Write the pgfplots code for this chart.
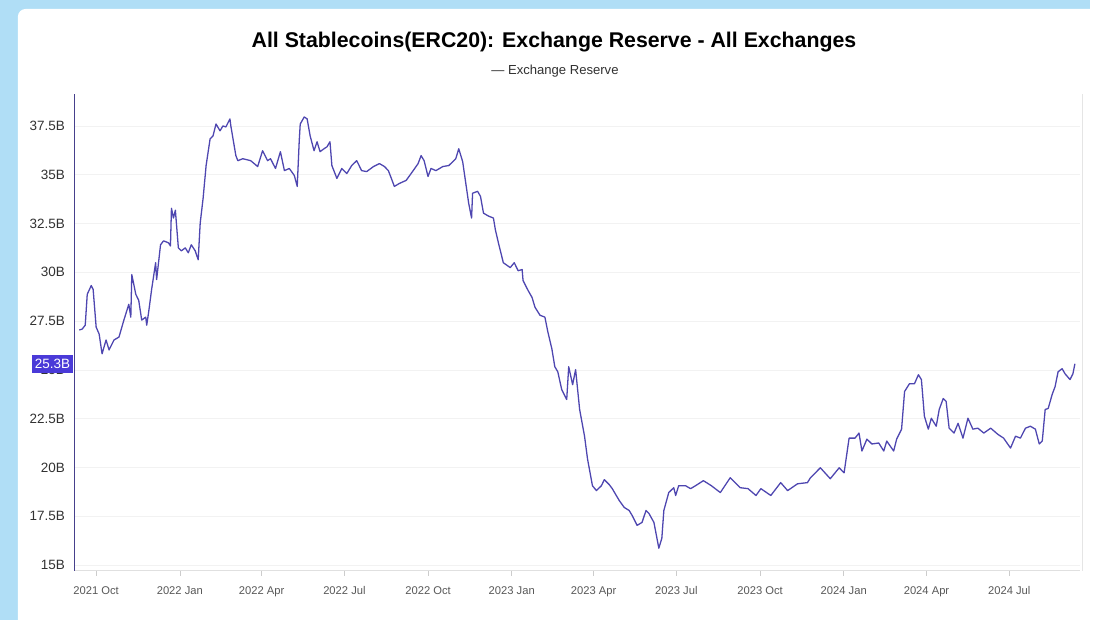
\documentclass[border=0pt]{standalone}
\usepackage{pgfplots}
\pgfplotsset{compat=1.18}
\usepackage{fontspec}
\setmainfont{Liberation Sans}
\definecolor{bgblue}{RGB}{176,222,246}
\definecolor{linec}{RGB}{78,70,176}
\definecolor{tagc}{RGB}{74,58,216}
\definecolor{axisc}{RGB}{70,64,140}
\definecolor{txt}{RGB}{50,50,50}
\begin{document}
\begin{tikzpicture}
\fill[bgblue] (0pt,0pt) rectangle (1100pt,626pt);
\fill[white, rounded corners=8pt] (18pt,-10pt) rectangle (1110pt,617pt);
\path[use as bounding box] (0pt,0pt) rectangle (1100pt,626pt);
\node[font=\fontsize{21.5}{24}\selectfont\bfseries, text=black] at (559pt,584pt) {All Stablecoins(ERC20): Exchange Reserve - All Exchanges};
\node[font=\fontsize{13.2}{15}\selectfont, text=txt] at (560pt,554pt) {— Exchange Reserve};
\begin{axis}[
  at={(75pt,50pt)}, anchor=south west, scale only axis,
  width=1015pt, height=481pt,
  xmin=-24, xmax=1082, ymin=14.7, ymax=39.13,
  axis x line*=bottom, axis y line*=left,
  x axis line style={draw=black!12, line width=0.8pt},
  y axis line style={draw=axisc, line width=1.3pt},
  xtick={0,92,182,273,365,457,547,638,730,822,913,1004},
  xticklabels={2021 Oct,2022 Jan,2022 Apr,2022 Jul,2022 Oct,2023 Jan,2023 Apr,2023 Jul,2023 Oct,2024 Jan,2024 Apr,2024 Jul},
  ytick={15,17.5,20,22.5,25,27.5,30,32.5,35,37.5},
  yticklabels={15B,17.5B,20B,22.5B,25B,27.5B,30B,32.5B,35B,37.5B},
  x tick label style={font=\fontsize{11.3}{13}\selectfont, text=black!65, yshift=-7pt},
  y tick label style={font=\fontsize{13.6}{15}\selectfont, text=txt, xshift=-6pt},
  x tick style={draw=black!20, line width=0.6pt},
  xtick align=outside, major tick length=5pt,
  y tick style={draw=none},
  ymajorgrids, grid style={draw=black!5, line width=0.6pt},
  clip=false,
]
\addplot[linec, line width=1.3pt, line join=round] coordinates {
(-18.5,27.04)(-15.3,27.09)(-12.0,27.29)(-9.8,28.87)(-5.4,29.32)(-3.3,29.12)(0,27.19)(3.3,26.83)(6.5,25.82)(10.9,26.53)(14.2,26.02)(19.6,26.53)(25.1,26.68)(30.5,27.55)(35.9,28.36)(38.1,27.70)(39.2,29.88)(43.6,28.87)(46.8,28.56)(50.1,27.55)(54.5,27.70)(55.6,27.29)(57.7,27.95)(61.0,29.12)(65.4,30.49)(66.5,29.63)(70.8,31.41)(74.1,31.61)(79.5,31.51)(81.7,31.35)(82.8,33.28)(85.0,32.78)(87.1,33.18)(90.4,31.25)(93.7,31.10)(98.0,31.25)(101.3,31.00)(104.6,31.41)(108.9,31.10)(112.2,30.64)(114.4,32.52)(117.6,33.79)(120.9,35.47)(125.3,36.84)(128.5,36.99)(131.8,37.60)(136.2,37.25)(139.4,37.50)(142.7,37.45)(147.1,37.86)(148.1,37.50)(153.6,35.98)(155.8,35.72)(161.2,35.82)(169.9,35.72)(177.6,35.42)(183.0,36.23)(188.5,35.72)(191.7,35.82)(197.2,35.32)(202.6,36.18)(207.0,35.21)(212.4,35.32)(217.9,34.96)(221.1,34.40)(223.3,36.74)(224.4,37.60)(228.8,37.96)(232.0,37.86)(235.3,36.99)(239.6,36.23)(242.9,36.69)(246.2,36.18)(250.5,36.33)(253.8,36.43)(257.1,36.69)(259.2,35.47)(264.7,34.81)(270.1,35.32)(275.6,35.06)(281.0,35.47)(286.5,35.72)(291.9,35.21)(297.4,35.16)(305.0,35.42)(311.5,35.57)(317.0,35.42)(321.3,35.21)(324.6,34.81)(327.9,34.40)(333.3,34.55)(340.9,34.71)(348.6,35.21)(354.0,35.57)(357.3,35.98)(360.6,35.72)(364.9,34.91)(368.2,35.32)(373.6,35.21)(381.2,35.42)(387.8,35.47)(395.4,35.82)(398.7,36.33)(403.0,35.67)(405.2,34.96)(409.6,33.54)(412.8,32.78)(413.9,34.05)(419.4,34.15)(422.6,33.89)(425.9,33.03)(431.4,32.88)(436.8,32.78)(439.0,32.17)(442.3,31.51)(447.7,30.49)(455.3,30.24)(459.7,30.49)(464.0,30.08)(468.4,30.14)(469.4,29.58)(474.9,29.07)(479.3,28.71)(482.5,28.21)(488.0,27.80)(493.4,27.70)(496.7,26.94)(501.1,26.07)(504.3,25.16)(507.6,24.90)(511.9,23.99)(517.4,23.48)(519.6,25.16)(523.9,24.24)(527.2,25.01)(531.6,22.97)(537.0,21.60)(540.3,20.43)(545.7,19.06)(550.1,18.81)(555.5,19.06)(558.8,19.37)(564.3,19.11)(567.5,18.91)(571.9,18.56)(575.2,18.30)(580.6,17.95)(586.1,17.79)(589.3,17.54)(594.8,17.03)(600.2,17.18)(604.6,17.79)(607.8,17.64)(613.3,17.18)(618.7,15.86)(622.0,16.37)(624.2,17.79)(629.6,18.71)(635.1,18.96)(637.2,18.56)(640.5,19.06)(648.1,19.06)(653.6,18.91)(659.0,19.06)(667.7,19.32)(676.5,19.06)(686.3,18.71)(697.2,19.47)(708.1,18.96)(716.8,18.91)(725.5,18.56)(730.9,18.91)(741.8,18.56)(752.7,19.22)(760.3,18.81)(771.2,19.16)(782.1,19.22)(785.4,19.47)(796.3,19.98)(807.2,19.42)(817.0,19.98)(822.4,19.72)(827.9,21.50)(834.4,21.50)(838.8,21.76)(842.0,20.84)(847.5,21.45)(852.9,21.20)(860.5,21.25)(866.0,20.84)(869.3,21.35)(876.9,20.84)(880.2,21.45)(885.6,21.96)(888.9,23.89)(894.3,24.29)(899.8,24.29)(904.1,24.75)(907.4,24.50)(910.7,22.62)(915.0,21.96)(918.3,22.52)(923.7,22.11)(927.0,22.97)(931.4,23.53)(934.6,23.38)(937.9,22.01)(943.3,21.76)(947.7,22.26)(953.1,21.50)(958.6,22.52)(964.0,21.96)(969.5,22.01)(976.0,21.76)(983.6,22.01)(991.3,21.70)(997.8,21.50)(1005.4,20.99)(1010.9,21.60)(1016.3,21.50)(1021.8,22.01)(1027.2,22.11)(1032.7,21.96)(1037.0,21.20)(1040.3,21.35)(1043.5,22.97)(1046.8,23.02)(1051.2,23.74)(1054.4,24.14)(1057.7,24.90)(1062.1,25.06)(1065.3,24.80)(1070.8,24.50)(1074.0,24.80)(1076.2,25.31)
};
\draw[black!10, line width=0.8pt] ([xshift=2pt]rel axis cs:1,0) -- ([xshift=2pt]rel axis cs:1,1);
\coordinate (tag) at (axis cs:-24,25.3);
\end{axis}
\node[fill=tagc, text=white, anchor=east, inner xsep=3pt, inner ysep=4pt, font=\fontsize{13.6}{15}\selectfont] at ([xshift=-1pt]tag) {25.3B};
\end{tikzpicture}
\end{document}
